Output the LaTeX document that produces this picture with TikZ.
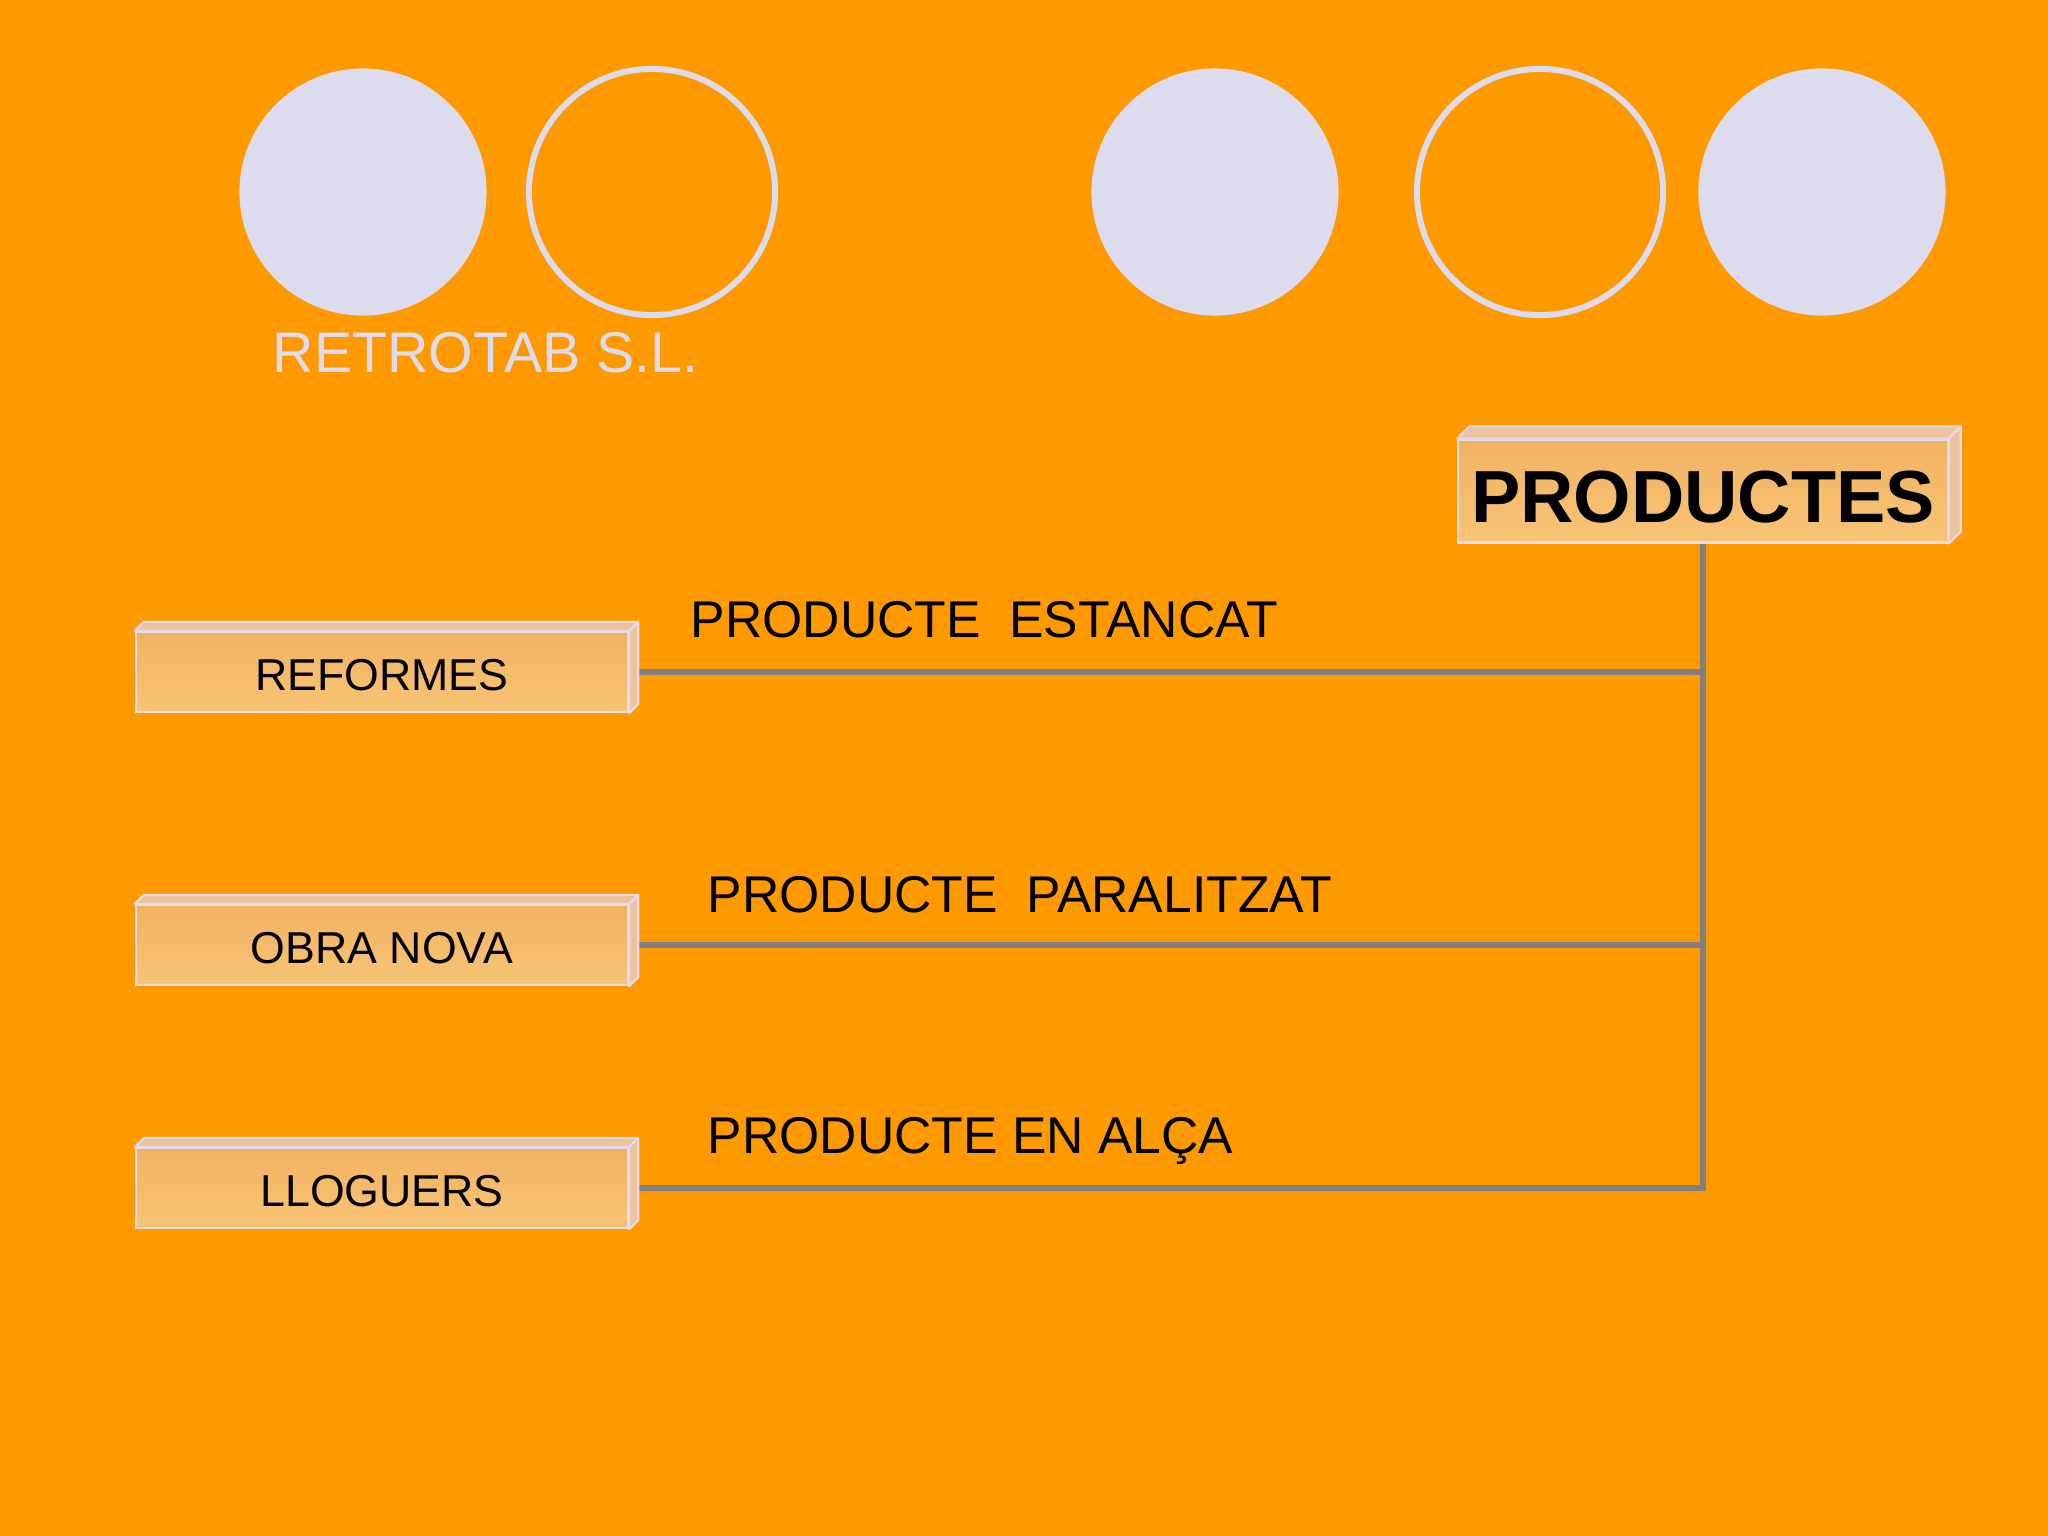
\documentclass[tikz,border=0pt]{standalone}
\usepackage{fontspec}
\setmainfont{Liberation Sans}
\usetikzlibrary{positioning}

\definecolor{bgorange}{HTML}{FF9900}
\definecolor{lav}{HTML}{DCDCEE}
\definecolor{facetop}{HTML}{F0B262}
\definecolor{facebot}{HTML}{F9C476}
\definecolor{bevel}{HTML}{EDC39E}
\definecolor{boxedge}{HTML}{E6DAEA}
\definecolor{linkgray}{HTML}{808080}

\tikzset{
	dot/.style={circle, fill=lav, minimum size=2.47cm, inner sep=0pt},
	ring/.style={circle, draw=lav, line width=1.7pt, minimum size=2.46cm, inner sep=0pt},
	item/.style={rectangle, draw=boxedge, line width=0.6pt, top color=facetop, bottom color=facebot,
		minimum width=4.92cm, minimum height=0.80cm, inner sep=0pt, text height=10.6pt, text depth=0pt,
		font=\fontsize{12.7}{15}\selectfont},
	head/.style={item, minimum width=4.89cm, minimum height=1.03cm, text height=18pt, text depth=0pt,
		font=\fontsize{21}{25}\bfseries},
	link/.style={draw=linkgray, line width=1.7pt},
	tag/.style={anchor=base west, inner sep=0pt, font=\fontsize{14.7}{17}\selectfont},
	side/.style={fill=bevel, draw=boxedge, line width=0.6pt, line join=round}
}

\begin{document}
\begin{tikzpicture}[x=0.01cm, y=-0.01cm]
	\fill[bgorange] (0, 0) rectangle (2048, 1536);
	\useasboundingbox (0, 0) rectangle (2048, 1536);

	\node[dot] (c1) at (363, 192) {};
	\node[ring] (c2) at (652, 192) {};
	\node[dot] (c3) at (1215, 192) {};
	\node[ring] (c4) at (1540, 192) {};
	\node[dot] (c5) at (1822, 192) {};

	\node[anchor=base west, inner sep=0pt, text=lav, font=\fontsize{16.3}{19}\selectfont] (title) at (272, 372) {RETROTAB S.L.};

	\node[head] (productes) at (1703, 491) {PRODUCTES};
	\node[item] (reformes) at (382, 672) {REFORMES};
	\node[item] (obra) at (382, 945) {OBRA NOVA};
	\node[item] (lloguers) at (382, 1188) {LLOGUERS};

	\draw[link] (productes.south) |- (lloguers.east);
	\draw[link] (reformes.east) -- (reformes.east -| productes.south);
	\draw[link] (obra.east) -- (obra.east -| productes.south);

	\foreach \n/\d in {reformes/9, obra/9, lloguers/9, productes/12} {
		\filldraw[side] (\n.north west) -- ++(\d, -\d) -- ([shift={(\d, -\d)}]\n.north east) -- (\n.north east) -- cycle;
		\filldraw[side] (\n.north east) -- ++(\d, -\d) -- ([shift={(\d, -\d)}]\n.south east) -- (\n.south east) -- cycle;
	}

	\node[tag] (estancat) at (690, 637) {PRODUCTE\ \ ESTANCAT};
	\node[tag] (paralitzat) at (707, 912) {PRODUCTE\ \ PARALITZAT};
	\node[tag] (alca) at (707, 1153) {PRODUCTE EN ALÇA};
\end{tikzpicture}
\end{document}
